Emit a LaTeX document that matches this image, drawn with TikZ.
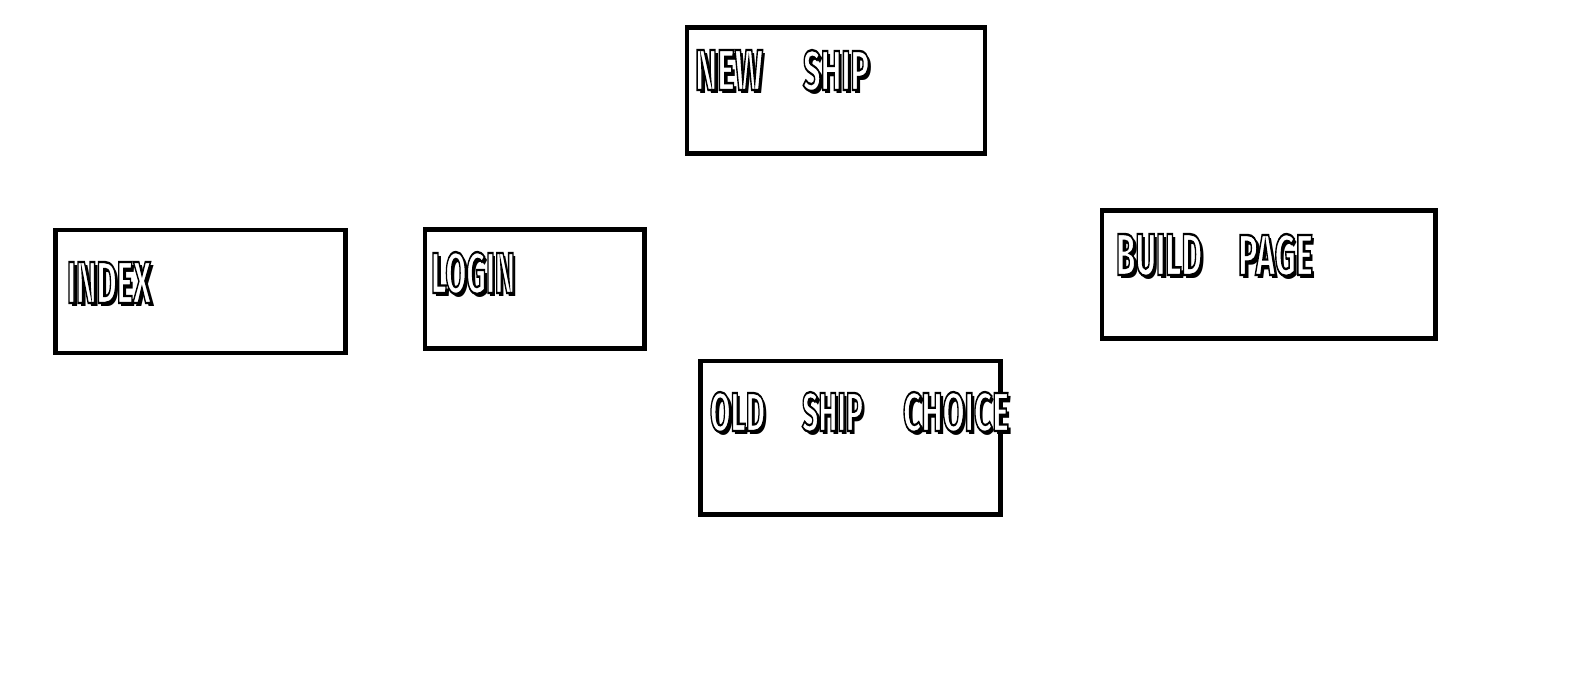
\documentclass[tikz,border=0pt]{standalone}
\usepackage{fontspec}
\usepackage{graphicx}
\newfontfamily\shipfont{Fira Sans}
\newcommand\outlined[1]{\special{pdf:literal direct 1 g 0 G 2.4 w 2 Tr}#1\special{pdf:literal direct 0 Tr 0 g 0 G}}
\newcommand\shipword[3]{\resizebox{#1pt}{#2pt}{\shipfont\bfseries\fontsize{58pt}{58pt}\selectfont #3}}
\newcommand\fancyword[3]{\makebox[0pt][l]{\hspace{3pt}\raisebox{-3pt}{\shipword{#1}{#2}{#3}}}\shipword{#1}{#2}{\outlined{#3}}}
\tikzset{
  pagebox/.style={draw=black, line width=4.5pt, rectangle, inner sep=0pt},
  pagelabel/.style={anchor=north west, inner sep=0pt, outer sep=0pt}
}
\begin{document}
\begin{tikzpicture}[x=1pt,y=-1pt]
\useasboundingbox (0,0) rectangle (1594,688);
\fill[white] (0,0) rectangle (1594,688);
% boxes
\node[pagebox, minimum width=298pt, minimum height=126pt] (newship) at (836.2,90.5) {};
\node[pagebox, minimum width=290pt, minimum height=123pt] (index) at (200.3,291.6) {};
\node[pagebox, minimum width=219.6pt, minimum height=119pt] (login) at (534.7,289.2) {};
\node[pagebox, minimum width=333.4pt, minimum height=128.1pt] (build) at (1268.7,274.5) {};
\node[pagebox, minimum width=299.9pt, minimum height=153.5pt] (oldship) at (850.4,437.7) {};
% labels
\node[pagelabel] (newshipt) at (695,50) {\fancyword{68}{40}{NEW}\hspace{40pt}\fancyword{66}{40}{SHIP}};
\node[pagelabel] (indext) at (67,262) {\fancyword{84}{41}{INDEX}};
\node[pagelabel] (logint) at (431,252) {\fancyword{84}{41}{LOGIN}};
\node[pagelabel] (buildt) at (1116,234) {\fancyword{86}{41}{BUILD}\hspace{36pt}\fancyword{75}{41}{PAGE}};
\node[pagelabel] (oldshipt) at (710,392) {\fancyword{55}{39}{OLD}\hspace{37pt}\fancyword{61}{39}{SHIP}\hspace{40pt}\fancyword{106}{39}{CHOICE}};
\end{tikzpicture}
\end{document}
